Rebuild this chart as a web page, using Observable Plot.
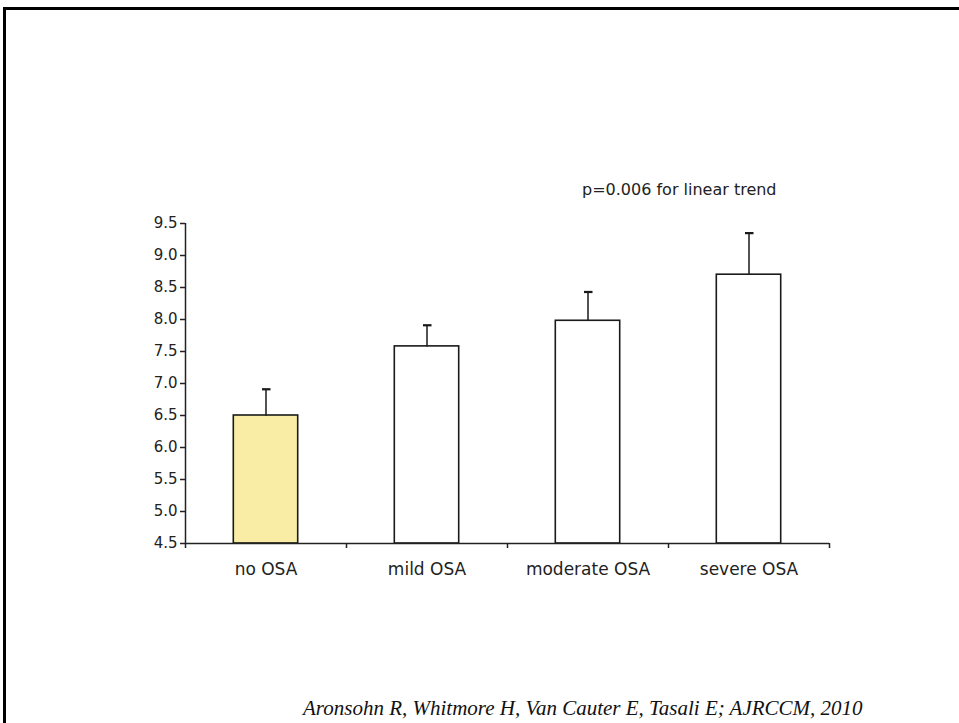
<!DOCTYPE html>
<html>
<head>
<meta charset="utf-8">
<script src="https://cdn.jsdelivr.net/npm/d3@7"></script>
<script src="https://cdn.jsdelivr.net/npm/@observablehq/plot@0.6"></script>
<style>
  html, body { margin: 0; padding: 0; background: #fff; }
  #page { position: relative; width: 959px; height: 723px; overflow: hidden; background: #fff; }
  #frame { position: absolute; left: 3px; top: 7px; width: 2000px; height: 2000px;
           border-top: 3px solid #000; border-left: 3px solid #000; box-sizing: border-box; }
  #chart { position: absolute; left: 0; top: 0; }
  #pval { position: absolute; left: 582px; top: 182px; font-family: "DejaVu Sans", Verdana, sans-serif;
          font-size: 16px; line-height: 16px; color: #222; white-space: nowrap; }
  #caption { position: absolute; left: 303px; top: 698px; font-family: "Liberation Serif", "Times New Roman", serif;
             font-style: italic; font-size: 21px; line-height: 21px; color: #111; white-space: nowrap; }
</style>
</head>
<body>
<div id="page">
  <div id="frame"></div>
  <div id="chart"></div>
  <div id="pval">p=0.006 for linear trend</div>
  <div id="caption">Aronsohn R, Whitmore H, Van Cauter E, Tasali E; AJRCCM, 2010</div>
</div>
<script>
const categories = ["no OSA", "mild OSA", "moderate OSA", "severe OSA"];
const means = [6.50, 7.58, 7.98, 8.70];
const errors = [0.41, 0.33, 0.45, 0.65];
const fills = ["#F9EDA6", "#FFFFFF", "#FFFFFF", "#FFFFFF"];
const yTicks = [4.5, 5.0, 5.5, 6.0, 6.5, 7.0, 7.5, 8.0, 8.5, 9.0, 9.5];
const yDomain = [4.5, 9.5];

const data = categories.map((c, i) => ({
  cat: c, i, mean: means[i], top: means[i] + errors[i], fill: fills[i]
}));
const barFrac = 0.4;
const boundaries = d3.range(categories.length + 1);
const centers = categories.map((_, i) => i + 0.5);

const chart = Plot.plot({
  width: 959,
  height: 600,
  marginTop: 223,
  marginBottom: 57,
  marginLeft: 185,
  marginRight: 130,
  style: { fontFamily: "DejaVu Sans, Verdana, sans-serif", color: "#222", background: "transparent" },
  x: { domain: [0, categories.length] },
  y: { domain: yDomain },
  marks: [
    Plot.rectY(data, {
      x1: d => d.i + 0.5 - barFrac / 2,
      x2: d => d.i + 0.5 + barFrac / 2,
      y1: yDomain[0],
      y2: "mean",
      fill: "fill",
      stroke: "#1a1a1a",
      strokeWidth: 1.6
    }),
    Plot.link(data, {
      x1: d => d.i + 0.5, x2: d => d.i + 0.5,
      y1: "mean", y2: "top",
      stroke: "#1a1a1a", strokeWidth: 1.5, markerEnd: "tick"
    }),
    Plot.ruleX([0], { stroke: "#222", strokeWidth: 1.5 }),
    Plot.ruleY([yDomain[0]], { stroke: "#222", strokeWidth: 1.5 }),
    Plot.axisY({
      ticks: yTicks, tickFormat: d3.format(".1f"), tickSize: 5, tickPadding: 3,
      fontSize: 15, stroke: "#222", strokeWidth: 1.5, label: null
    }),
    Plot.axisX({
      ticks: boundaries, tickFormat: () => "", tickSize: 5,
      stroke: "#222", strokeWidth: 1.5, label: null
    }),
    Plot.axisX({
      ticks: centers, tickFormat: v => categories[Math.floor(v)], tickSize: 0,
      tickPadding: 19, fontSize: 17, label: null
    })
  ]
});
document.getElementById("chart").appendChild(chart);
</script>
</body>
</html>
